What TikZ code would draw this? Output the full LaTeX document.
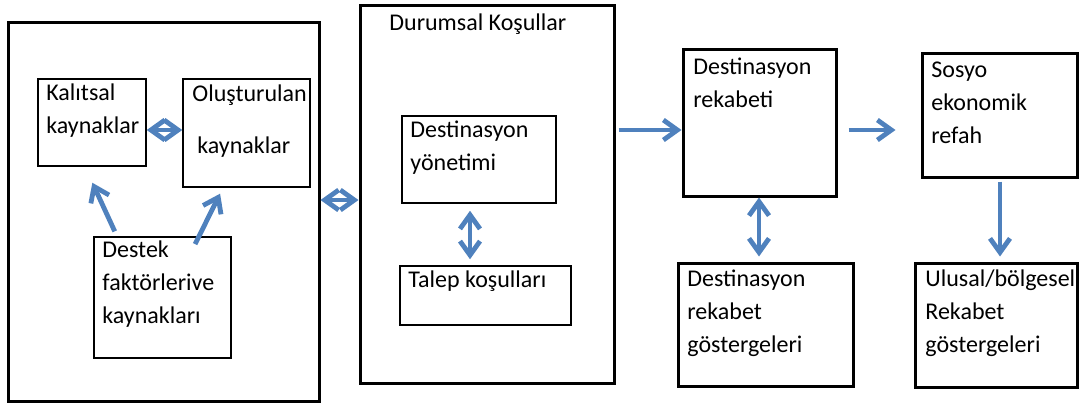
\documentclass[tikz,border=0pt]{standalone}
\usepackage{fontspec}
\setmainfont{Carlito}
\usetikzlibrary{arrows.meta,fit}
\definecolor{arrowblue}{RGB}{79,129,189}

\begin{document}
\begin{tikzpicture}[x=0.5pt, y=-0.5pt,
        bigbox/.style={draw, line width=1.5pt, inner sep=0pt},
        smallbox/.style={draw, line width=0.75pt, inner sep=0pt},
        txt/.style={anchor=base west, align=left, inner sep=0pt, font=\fontsize{12}{16.5}\selectfont},
        arr/.style={-{Straight Barb[length=7pt,width=10pt]}, line width=2.4pt, arrowblue},
        dblarr/.style={{Straight Barb[length=7pt,width=10pt]}-{Straight Barb[length=7pt,width=10pt]}, line width=2.4pt, arrowblue}]
        \useasboundingbox (0,0) rectangle (1079,403);
        % kaynaklar
        \node[bigbox, fit={(8,22) (319,401)}] (kaynak) {};
        \node[smallbox, fit={(38,79) (146,166)}] (kalitsal) {};
        \node[smallbox, fit={(183,79) (310,187)}] (olus) {};
        \node[smallbox, fit={(94,237) (231,358)}] (destek) {};
        \node[txt] at (46,133) {Kalıtsal\\kaynaklar};
        \node[txt] at (192,153) {Oluşturulan\\[9.5pt]\hspace{2.5pt}kaynaklar};
        \node[txt] at (102,323) {Destek\\faktörlerive\\kaynakları};
        % durumsal kosullar
        \node[bigbox, fit={(360,5) (614,383)}] (durum) {};
        \node[smallbox, fit={(402,116) (556,203)}] (yonetim) {};
        \node[smallbox, fit={(400,266) (571,325)}] (talep) {};
        \node[txt] at (389,30) {Durumsal Koşullar};
        \node[txt] at (410,170) {Destinasyon\\yönetimi};
        \node[txt] at (408,287) {Talep koşulları};
        % rekabet
        \node[bigbox, fit={(683,49) (836,196)}] (rekabet) {};
        \node[bigbox, fit={(922,53) (1077,177)}] (refah) {};
        \node[bigbox, fit={(678,263) (853,386)}] (gosterge) {};
        \node[bigbox, fit={(915,263) (1077,387)}] (ulusal) {};
        \node[txt] at (693,107) {Destinasyon\\rekabeti};
        \node[txt] at (931,143) {Sosyo\\ekonomik\\refah};
        \node[txt] at (687,352) {Destinasyon\\rekabet\\göstergeleri};
        \node[txt] at (925,352) {Ulusal/bölgesel\\Rekabet\\göstergeleri};
        % oklar
        \draw[dblarr] (kalitsal.east |- 0,130) -- (olus.west |- 0,130);
        \draw[arr, shorten <=2.7pt, shorten >=8.8pt] (destek.north -| 117,0) -- (kalitsal.south -| 85,0);
        \draw[arr, shorten <=-4.4pt, shorten >=3.3pt] (destek.north -| 199,0) -- (olus.south -| 223,0);
        \draw[dblarr] (kaynak.east |- 0,200) -- (durum.west |- 0,200);
        \draw[dblarr, shorten <=3.5pt, shorten >=3pt] (yonetim.south -| 470,0) -- (talep.north -| 470,0);
        \draw[arr, shorten <=1.5pt] (durum.east |- 0,130) -- (rekabet.west |- 0,130);
        \draw[arr, shorten <=5.5pt, shorten >=12.5pt] (rekabet.east |- 0,130) -- (refah.west |- 0,130);
        \draw[dblarr, shorten >=2.5pt] (rekabet.south -| 759,0) -- (gosterge.north -| 759,0);
        \draw[arr, shorten <=1.5pt, shorten >=2.5pt] (refah.south -| 1000,0) -- (ulusal.north -| 1000,0);
    \end{tikzpicture}
\end{document}
